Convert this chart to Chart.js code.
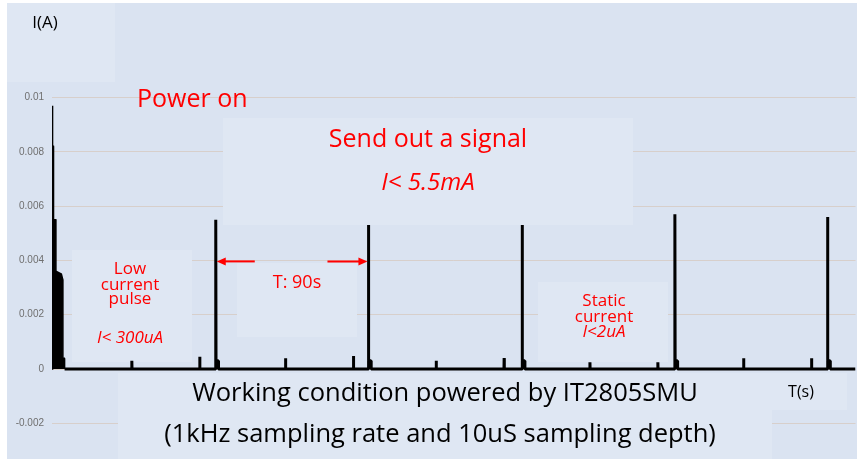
<!DOCTYPE html>
<html lang="en">
<head>
    <meta charset="UTF-8">
    <title>Current consumption</title>
    <script src="https://cdn.jsdelivr.net/npm/chart.js"></script>
    <style>
        body { margin: 0; background: #fff; }
        #wrap { width: 857px; height: 459px; }
    </style>
</head>
<body>
<div id="wrap"><canvas id="currentChart" width="857" height="459"></canvas></div>
<script>
    // values (time in s, current in A)
    const yTicks = [-0.002, 0, 0.002, 0.004, 0.006, 0.008, 0.01];
    const spikeTimes = [96.2, 185.9, 276.2, 365.9, 455.6];
    const spikeAmps = [0.0055, 0.0053, 0.0053, 0.0057, 0.0056];
    const pulseTimes = [46.9, 86.8, 137.2, 177.1, 225.7, 265.6, 316.0, 355.9, 406.3, 446.2];
    const pulseAmps = [0.0003, 0.00045, 0.0004, 0.00048, 0.0003, 0.0004, 0.00025, 0.00025, 0.0004, 0.0004];
    const startTimes = [0, 0.1, 0.4, 0.5, 0.8, 0.9, 2.2, 2.3, 5.5, 6.3, 6.4, 7.2, 7.4];
    const startAmps = [0, 0.0097, 0.0097, 0.0082, 0.0082, 0.0055, 0.0055, 0.0036, 0.0035, 0.0033, 0.0004, 0.0004, 0];
    const tEnd = 472;

    const BG = '#dae3f1';
    const BOX = '#dfe7f3';
    const RED = '#ff0000';
    const FONT = '"Open Sans", sans-serif';

    // build the trace: flat baseline with spikes and small pulses
    let events = [];
    spikeTimes.forEach((t, i) => events.push({ t: t, v: spikeAmps[i], big: true }));
    pulseTimes.forEach((t, i) => events.push({ t: t, v: pulseAmps[i], big: false }));
    events.sort((a, b) => a.t - b.t);

    let trace = [{ x: startTimes[startTimes.length - 1], y: 0 }];
    events.forEach(e => {
        trace.push({ x: e.t - 0.1, y: 0 });
        trace.push({ x: e.t, y: e.v });
        if (e.big) {
            trace.push({ x: e.t + 0.15, y: 0.0003 });
            trace.push({ x: e.t + 1.5, y: 0.0003 });
            trace.push({ x: e.t + 1.6, y: 0 });
        } else {
            trace.push({ x: e.t + 0.1, y: 0 });
        }
    });
    trace.push({ x: tEnd, y: 0 });

    const startBurst = startTimes.map((t, i) => ({ x: t, y: startAmps[i] }));

    const boxes = [
        [7, 3, 108, 79],
        [223, 118, 410, 107],
        [72, 250, 120, 112],
        [237, 263, 120, 74],
        [538, 282, 130, 80],
        [118, 373, 729, 37],
        [118, 410, 654, 49]
    ];

    const decor = {
        id: 'decor',
        beforeDraw(chart) {
            const ctx = chart.ctx;
            ctx.save();
            ctx.fillStyle = BG;
            ctx.fillRect(7, 3, 850, 456);
            ctx.restore();
        },
        beforeDatasetsDraw(chart) {
            const ctx = chart.ctx;
            ctx.save();
            ctx.fillStyle = BOX;
            boxes.forEach(b => ctx.fillRect(b[0], b[1], b[2], b[3]));
            ctx.restore();
        },
        afterDraw(chart) {
            const ctx = chart.ctx;
            const xs = chart.scales.x, ys = chart.scales.y;
            ctx.save();
            ctx.textBaseline = 'alphabetic';

            function txt(s, x, y, size, color, italic, align) {
                ctx.font = (italic ? 'italic ' : '') + size + 'px ' + FONT;
                ctx.fillStyle = color;
                ctx.textAlign = align || 'center';
                ctx.fillText(s, x, y);
            }

            txt('I(A)', 45, 28, 17, '#000');
            txt('Power on', 137, 107, 25, RED, false, 'left');
            txt('Send out a signal', 428, 147, 25, RED);
            txt('I< 5.5mA', 428, 190, 24, RED, true);
            txt('Low', 130, 274, 17, RED);
            txt('current', 130, 290, 17, RED);
            txt('pulse', 130, 304, 17, RED);
            txt('I< 300uA', 130, 343, 17, RED, true);
            txt('T: 90s', 297, 288, 18, RED);
            txt('Static', 604, 306, 17, RED);
            txt('current', 604, 322, 17, RED);
            txt('I<2uA', 604, 337, 17, RED, true);
            txt('Working condition powered by IT2805SMU', 445, 401, 25.5, '#000');
            txt('T(s)', 801, 397, 16, '#000');
            txt('(1kHz sampling rate and 10uS sampling depth)', 440, 442, 25.5, '#000');

            // T: 90s arrows between the first two signal spikes
            const ay = ys.getPixelForValue(0.004) + 1;
            const x1 = xs.getPixelForValue(spikeTimes[0]) + 1;
            const x2 = xs.getPixelForValue(spikeTimes[1]) - 1;
            ctx.strokeStyle = RED;
            ctx.fillStyle = RED;
            ctx.lineWidth = 2;
            [[x1 + 38, x1], [x2 - 40, x2]].forEach(a => {
                const dir = a[1] > a[0] ? 1 : -1;
                ctx.beginPath();
                ctx.moveTo(a[0], ay);
                ctx.lineTo(a[1] - dir * 7, ay);
                ctx.stroke();
                ctx.beginPath();
                ctx.moveTo(a[1], ay);
                ctx.lineTo(a[1] - dir * 9, ay - 4);
                ctx.lineTo(a[1] - dir * 9, ay + 4);
                ctx.closePath();
                ctx.fill();
            });
            ctx.restore();
        }
    };

    const chart = new Chart(document.getElementById('currentChart'), {
        type: 'line',
        data: {
            datasets: [{
                data: trace,
                borderColor: '#000',
                borderWidth: 3,
                pointRadius: 0,
                tension: 0,
                borderJoinStyle: 'bevel'
            }, {
                data: startBurst,
                borderColor: '#000',
                backgroundColor: '#000',
                borderWidth: 1.5,
                pointRadius: 0,
                fill: 'origin'
            }]
        },
        options: {
            responsive: false,
            animation: false,
            layout: { padding: 0 },
            plugins: { legend: { display: false }, tooltip: { enabled: false } },
            scales: {
                x: {
                    type: 'linear',
                    display: false,
                    min: 0,
                    max: tEnd
                },
                y: {
                    min: -0.003,
                    max: 0.013,
                    afterFit: s => { s.width = 52; },
                    afterBuildTicks: s => { s.ticks = yTicks.map(v => ({ value: v })); },
                    border: { display: false },
                    grid: { color: 'rgba(214,200,190,0.75)', lineWidth: 1, drawTicks: false },
                    ticks: {
                        color: '#6f6f6f',
                        padding: 8,
                        font: { family: 'Liberation Sans', size: 10 },
                        callback: v => String(v)
                    }
                }
            }
        },
        plugins: [decor]
    });

    // put 0 at y=369 with 0.002 every 54.3 px, like the original slide
    const area = chart.chartArea;
    const pxPerAmp = 54.3 / 0.002;
    chart.options.scales.y.min = -(area.bottom - 369) / pxPerAmp;
    chart.options.scales.y.max = (369 - area.top) / pxPerAmp;
    chart.update();
</script>
</body>
</html>
